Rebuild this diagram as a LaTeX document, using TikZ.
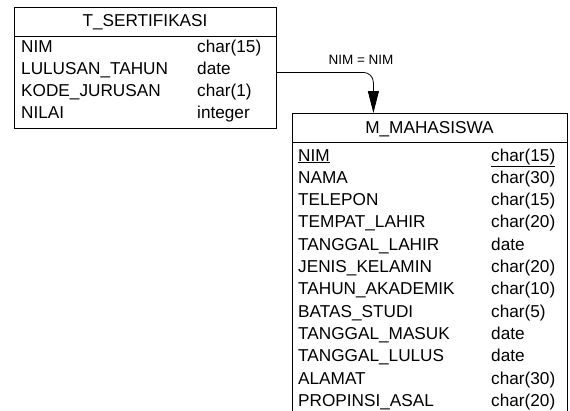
\documentclass[tikz,border=0pt]{standalone}
\usepackage{fontspec}
\setmainfont{Liberation Sans}
\usetikzlibrary{arrows.meta}
\begin{document}
\begin{tikzpicture}[x=1pt,y=-1pt,
  tbl/.style={draw,line width=0.8pt,rectangle,anchor=north west,inner sep=0pt},
  txt/.style={anchor=base west,inner sep=0pt,font=\fontsize{17.2}{20}\selectfont},
  hdr/.style={anchor=base,inner sep=0pt,font=\fontsize{17.2}{20}\selectfont},
  rel/.style={draw,line width=0.8pt,rounded corners=10pt,-{Triangle[length=22pt,width=11pt]}},
  lbl/.style={anchor=base,inner sep=0pt,font=\fontsize{13.5}{16}\selectfont}]
\useasboundingbox[fill=white] (0,0) rectangle (570,410);
% T_SERTIFIKASI
\node[tbl,minimum width=262pt,minimum height=121pt] (ts) at (14,7) {};
\draw[line width=0.8pt] (14,36) -- (276,36);
\node[hdr] (tsh) at (145,26) {T\_SERTIFIKASI};
\foreach \n/\t [count=\i from 0] in {NIM/char(15),LULUSAN\_TAHUN/date,KODE\_JURUSAN/char(1),NILAI/integer}{
  \node[txt] (tsa\i) at (21,52+22*\i) {\n};
  \node[txt] (tst\i) at (197,52+22*\i) {\t};
}
% M_MAHASISWA
\node[tbl,minimum width=275pt,minimum height=310pt] (mm) at (292,113) {};
\draw[line width=0.8pt] (292,142) -- (567,142);
\node[hdr] (mmh) at (429.5,133) {M\_MAHASISWA};
\node[txt] (mma0) at (298,161) {\underline{NIM}};
\node[txt] (mmt0) at (491,161) {\underline{char(15)}};
\foreach \n/\t [count=\i from 1] in {NAMA/char(30),TELEPON/char(15),TEMPAT\_LAHIR/char(20),TANGGAL\_LAHIR/date,JENIS\_KELAMIN/char(20),TAHUN\_AKADEMIK/char(10),BATAS\_STUDI/char(5),TANGGAL\_MASUK/date,TANGGAL\_LULUS/date,ALAMAT/char(30),PROPINSI\_ASAL/char(20)}{
  \node[txt] (mma\i) at (298,161+22.3*\i) {\n};
  \node[txt] (mmt\i) at (491,161+22.3*\i) {\t};
}
% relation
\draw[rel] ([yshift=-4.5pt]ts.east) -| ([xshift=-56.5pt]mm.north);
\node[lbl] (rl) at (361,64) {NIM = NIM};
\end{tikzpicture}
\end{document}
